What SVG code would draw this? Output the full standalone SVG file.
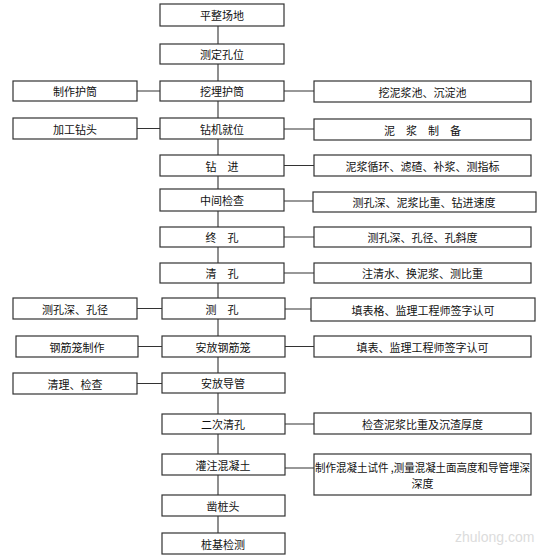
<svg xmlns="http://www.w3.org/2000/svg" width="555" height="560" viewBox="0 0 555 560">
<style>
rect{fill:#fff;stroke:#333;stroke-width:1.2}
text{font-family:"Noto Sans CJK SC","Noto Sans",sans-serif;font-size:11px;fill:#111;text-anchor:middle;dominant-baseline:central}
.c line,.c path{stroke:#333;stroke-width:1.1;fill:none}
.wm{fill:#dcdcdc;font-family:"Liberation Sans",sans-serif;font-size:14px;text-anchor:start}
</style>
<rect x="0" y="0" width="555" height="560" style="fill:#fff;stroke:none"/>
<g class="c" id="connectors">
<path d="M218,26V44M218,64V81M218,101V118M218,139V155M218,176V189M218,211V227M218,247V263M218,283V298M218,319V336M218,357V373M218,393V414M218,434V454M218,475V495M218,516V533"/>
<path d="M137,91H160M137,128.5H160M137,308.5H162M138,346.5H162M137,383.5H162"/>
<path d="M284,91H314M284,129H314M284,165.5H314M284,201H313M284,237H314M284,273H314M285,309H311M285,346.5H314M285,424H314M285,468H315"/>
</g>
<g id="n1"><rect x="160" y="4" width="124" height="22"/><text x="222" y="15">平整场地</text></g>
<g id="n2"><rect x="160" y="44" width="124" height="20"/><text x="222" y="54">测定孔位</text></g>
<g id="n3"><rect x="160" y="81" width="124" height="20"/><text x="222" y="91">挖埋护筒</text></g>
<g id="n4"><rect x="160" y="118" width="124" height="21"/><text x="222" y="128.5">钻机就位</text></g>
<g id="n5"><rect x="160" y="155" width="124" height="21"/><text x="222" y="165.5">钻　进</text></g>
<g id="n6"><rect x="160" y="189" width="124" height="22"/><text x="222" y="200">中间检查</text></g>
<g id="n7"><rect x="160" y="227" width="124" height="20"/><text x="222" y="237">终　孔</text></g>
<g id="n8"><rect x="160" y="263" width="124" height="20"/><text x="222" y="273">清　孔</text></g>
<g id="n9"><rect x="162" y="298" width="123" height="21"/><text x="222" y="308.5">测　孔</text></g>
<g id="n10"><rect x="162" y="336" width="123" height="21"/><text x="223" y="346.5">安放钢筋笼</text></g>
<g id="n11"><rect x="162" y="373" width="123" height="20"/><text x="223" y="383">安放导管</text></g>
<g id="n12"><rect x="162" y="414" width="123" height="20"/><text x="223" y="424">二次清孔</text></g>
<g id="n13"><rect x="162" y="454" width="123" height="21"/><text x="223" y="464.5">灌注混凝土</text></g>
<g id="n14"><rect x="162" y="495" width="123" height="21"/><text x="223" y="505.5">凿桩头</text></g>
<g id="n15"><rect x="162" y="533" width="123" height="21"/><text x="223" y="543.5">桩基检测</text></g>
<g id="l1"><rect x="13" y="81" width="124" height="20"/><text x="75" y="91">制作护筒</text></g>
<g id="l2"><rect x="13" y="118" width="124" height="21"/><text x="75" y="128.5">加工钻头</text></g>
<g id="l3"><rect x="13" y="298" width="124" height="21"/><text x="75" y="308.5">测孔深、孔径</text></g>
<g id="l4"><rect x="16" y="336" width="122" height="21"/><text x="77" y="346.5">钢筋笼制作</text></g>
<g id="l5"><rect x="13" y="373" width="124" height="21"/><text x="75" y="383.5">清理、检查</text></g>
<g id="r1"><rect x="314" y="81" width="217" height="21"/><text x="422.5" y="91.5">挖泥浆池、沉淀池</text></g>
<g id="r2"><rect x="314" y="119" width="217" height="21"/><text x="422.5" y="129.5">泥　浆　制　备</text></g>
<g id="r3"><rect x="314" y="155" width="217" height="21"/><text x="422.5" y="165.5">泥浆循环、滤碴、补浆、测指标</text></g>
<g id="r4"><rect x="313" y="192" width="223" height="20"/><text x="424" y="202">测孔深、泥浆比重、钻进速度</text></g>
<g id="r5"><rect x="314" y="227" width="217" height="20"/><text x="422.5" y="237">测孔深、孔径、孔斜度</text></g>
<g id="r6"><rect x="314" y="263" width="217" height="20"/><text x="422.5" y="273">注清水、换泥浆、测比重</text></g>
<g id="r7"><rect x="311" y="298" width="224" height="23"/><text x="423" y="309.5">填表格、监理工程师签字认可</text></g>
<g id="r8"><rect x="314" y="336" width="217" height="21"/><text x="422.5" y="346.5">填表、监理工程师签字认可</text></g>
<g id="r9"><rect x="314" y="413" width="217" height="21"/><text x="422.5" y="423.5">检查泥浆比重及沉渣厚度</text></g>
<g id="r10"><rect x="314" y="454" width="217" height="41"/><text x="422.5" y="467" textLength="215" lengthAdjust="spacingAndGlyphs">制作混凝土试件 ,测量混凝土面高度和导管埋深</text><text x="422.5" y="483">深度</text></g>
<text class="wm" x="455" y="537">zhulong.com</text>
</svg>
